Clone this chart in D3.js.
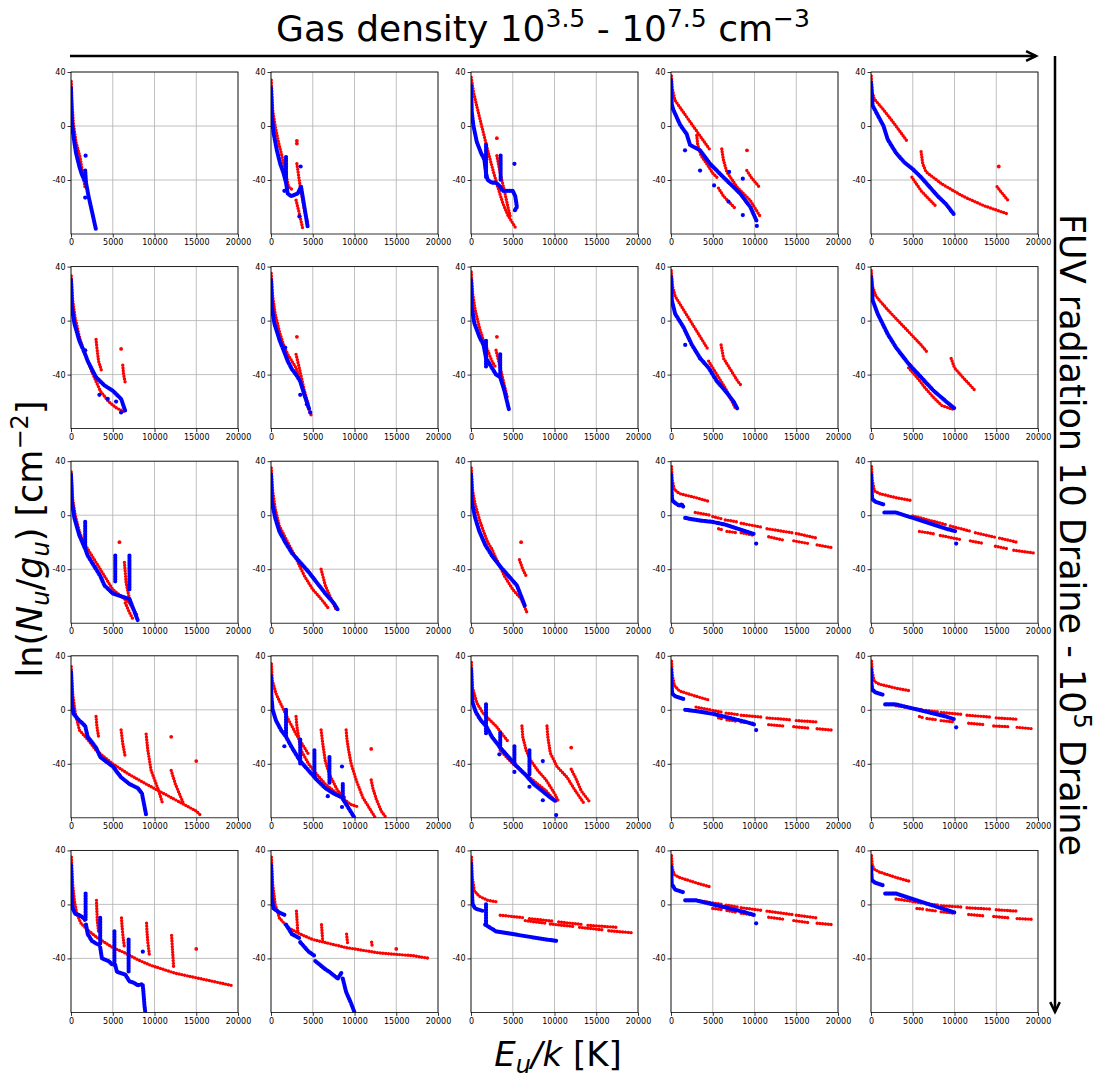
<!DOCTYPE html>
<html>
<head>
<meta charset="utf-8">
<script src="https://cdn.jsdelivr.net/npm/d3@7"></script>
<style>
  body { margin: 0; background: #fff; }
  text { font-family: "DejaVu Sans", sans-serif; }
</style>
</head>
<body>
<svg width="1100" height="1078"></svg>
<script>
// axis ticks
const xTicks = [0, 5000, 10000, 15000, 20000];
const yTicks = [40, 0, -40];

// each panel: red / blue dotted runs ([E_u/k, ln(N/g)]) and single points
const row1 = [
  { red: [[[30,33],[100,20],[280,2],[600,-12],[1080,-23],[1400,-35],[1700,-46]]],
    blue: [[[0,28],[50,10],[150,0],[300,-8],[600,-20],[1000,-30],[1300,-36],[1600,-40]],
           [[1700,-33],[1800,-42],[2100,-52],[2500,-63],[3000,-77]]],
    redPts: [], bluePts: [[1750,-22],[1700,-53]] },
  { red: [[[30,34],[200,12],[500,0],[900,-12],[1300,-22],[1700,-33],[2100,-45],[2700,-48]],
          [[3100,-28],[3500,-45],[4000,-62],[4400,-72]],
          [[3000,-55],[3400,-65],[3800,-76]]],
    blue: [[[0,28],[100,8],[300,-5],[700,-18],[1100,-28],[1500,-35],[1800,-42],[2000,-50],[2400,-52],[3200,-50],[3600,-45]],
           [[3600,-45],[4000,-60],[4400,-75]], [[1800,-23],[1800,-40]]],
    redPts: [[3100,-13],[3100,-11]], bluePts: [[3550,-30],[1600,-48],[3400,-67]] },
  { red: [[[30,36],[300,25],[800,12],[1400,-3],[2000,-18],[2600,-32],[3200,-45],[3800,-57],[4400,-66],[5400,-76]],
          [[3100,-22],[3500,-35],[4000,-48],[4500,-62],[4700,-67]]],
    blue: [[[0,30],[100,10],[300,0],[700,-12],[1200,-20],[1600,-25],[1800,-35],[2000,-40],[2500,-42],[3000,-42],[3500,-45],[3800,-48],[4500,-48],[5000,-48],[5300,-52],[5500,-60],[5200,-63]],
           [[1800,-14],[1800,-38]], [[3550,-22],[3550,-40]]],
    redPts: [[3100,-9]], bluePts: [[5200,-28]] },
  { red: [[[50,37],[150,28],[480,19],[2300,3],[4700,-18]],
          [[3080,-7],[3200,-14],[3600,-22],[4500,-30],[5000,-35],[5500,-38]],
          [[6080,-17],[6280,-25],[6680,-34],[7880,-45],[9480,-55],[10680,-67]],
          [[5680,-46],[6300,-52],[7680,-61]],
          [[9080,-33],[9600,-38],[10680,-46]]],
    blue: [[[0,34],[50,22],[100,16],[280,12],[1080,1],[1880,-6],[2280,-14],[3480,-18],[4680,-28],[6280,-38],[8280,-50],[9500,-60],[10300,-71]]],
    redPts: [[9100,-18]], bluePts: [[1680,-18],[3480,-33],[5160,-44],[6960,-34],[6880,-56],[8600,-39],[8600,-66],[10280,-74]] },
  { red: [[[30,37],[150,25],[400,20],[1500,12],[3000,0],[4400,-12]],
          [[4900,-38],[6000,-48],[7700,-59]],
          [[6000,-19],[6200,-28],[6600,-34],[8500,-43],[11000,-52],[13500,-59],[16300,-65]],
          [[15100,-45],[15600,-49],[16400,-55]]],
    blue: [[[0,32],[200,15],[800,8],[1500,0],[2000,-10],[3000,-20],[4000,-27],[5000,-32],[6000,-38],[7000,-45],[8000,-52],[9000,-58],[10000,-66]]],
    redPts: [[15300,-30]], bluePts: [] }
];

const row2 = [
  { red: [[[30,33],[200,15],[500,2],[1000,-12],[1500,-22],[2000,-30],[2500,-38],[3000,-45],[3500,-52],[4500,-60],[5500,-65],[6600,-68]],
          [[3000,-14],[3100,-20],[3300,-30],[3700,-38]],
          [[6200,-33],[6300,-40],[6500,-46]]],
    blue: [[[0,30],[100,10],[400,-2],[1000,-15],[1700,-25],[2000,-30],[2500,-36],[3000,-42],[4000,-48],[5000,-52],[6000,-58],[6500,-67]]],
    redPts: [[6000,-21]], bluePts: [[1700,-22],[3400,-55],[4400,-58],[5400,-60],[6000,-68]] },
  { red: [[[30,35],[200,18],[500,5],[1000,-8],[1500,-18],[2000,-25],[2500,-30],[3000,-35],[3500,-45],[4000,-55],[4500,-65],[4800,-70]],
          [[3000,-25],[3500,-38],[4000,-52],[4500,-63]]],
    blue: [[[0,30],[100,10],[400,-2],[1000,-14],[1500,-22],[2000,-30],[2500,-36],[3000,-40],[3500,-45],[4000,-55],[4600,-66]]],
    redPts: [[3100,-12]], bluePts: [[1700,-20],[3500,-55],[4300,-62],[4700,-68]] },
  { red: [[[30,36],[200,20],[500,8],[1000,-5],[1500,-15],[2000,-22],[2500,-30],[3000,-35]],
          [[3000,-22],[3500,-35],[4000,-48],[4400,-58]]],
    blue: [[[0,30],[100,10],[400,-2],[1000,-12],[1500,-18],[1800,-28],[2500,-35],[3000,-40],[3500,-42],[4000,-52],[4550,-66]],
           [[1800,-15],[1800,-35]], [[3500,-25],[3500,-42]]],
    redPts: [[3100,-12]], bluePts: [] },
  { red: [[[30,37],[200,25],[500,18],[1500,8],[2500,-2],[3500,-12],[4500,-22]],
          [[6000,-18],[6300,-28],[7000,-35],[8000,-45],[8400,-48]],
          [[4500,-30],[5500,-40],[6500,-50],[7800,-66]]],
    blue: [[[0,32],[100,15],[500,5],[1500,-5],[2500,-18],[3500,-28],[4500,-35],[5500,-45],[6500,-52],[7500,-60],[8000,-66]]],
    redPts: [], bluePts: [[1700,-18],[3500,-28]] },
  { red: [[[30,37],[200,25],[600,18],[2000,8],[4000,-5],[6000,-18],[6800,-24]],
          [[4500,-35],[5500,-42],[6500,-50],[7500,-57],[8500,-63],[10000,-66]],
          [[9600,-28],[10000,-35],[11000,-42],[12500,-52]]],
    blue: [[[0,32],[200,15],[800,5],[2000,-10],[3000,-20],[4500,-32],[6000,-42],[7500,-52],[9000,-60],[10000,-65]]],
    redPts: [], bluePts: [] }
];

const row3 = [
  { red: [[[30,32],[200,12],[500,0],[1000,-12],[1500,-20],[2000,-25],[2500,-30],[3000,-35],[3500,-40],[4000,-45],[5000,-55],[6000,-60],[7000,-65],[8000,-75]],
          [[6400,-35],[6600,-50],[7000,-62]], [[6500,-65],[7000,-72],[7500,-78]]],
    blue: [[[0,30],[100,10],[400,-2],[1000,-15],[1700,-25],[2000,-30],[2500,-35],[3000,-40],[3500,-45],[4000,-52],[5000,-58],[6000,-60],[7000,-62],[7500,-70],[8000,-78]],
           [[1700,-5],[1700,-25]], [[5300,-30],[5300,-50]], [[7000,-30],[7000,-55]]],
    redPts: [[5800,-20]], bluePts: [] },
  { red: [[[30,35],[200,18],[500,5],[1000,-8],[2000,-20],[3000,-32],[4000,-45],[5000,-55],[6000,-62],[7000,-70]],
          [[6000,-40],[6500,-52],[7200,-62],[7800,-70]]],
    blue: [[[0,30],[100,10],[500,-2],[1000,-12],[1700,-20],[2500,-28],[3500,-35],[4500,-42],[5500,-50],[6500,-58],[7500,-65],[8000,-70]]],
    redPts: [], bluePts: [] },
  { red: [[[30,35],[200,18],[500,8],[1000,-3],[1500,-12],[2000,-20],[2500,-25],[3000,-32],[4000,-45],[5000,-55],[6000,-62],[6700,-72]],
          [[5800,-33],[6200,-40],[6600,-45]]],
    blue: [[[0,30],[100,10],[500,-2],[1000,-12],[1700,-22],[2500,-30],[3500,-38],[4500,-45],[5500,-52],[6500,-68]]],
    redPts: [[6000,-20]], bluePts: [] },
  { red: [[[60,36],[150,26],[400,19],[1000,16],[3000,13],[4700,10]],
          [[2900,2],[4700,0]], [[5000,-1],[6300,-3]], [[6500,-3.5],[8000,-5]], [[8400,-6],[11000,-9]], [[11500,-10],[14500,-13]], [[15000,-13.5],[17500,-17]],
          [[5700,-10],[6300,-11]], [[6700,-12],[8000,-13]], [[8400,-13],[10000,-15]], [[11700,-16],[13500,-18.5]], [[14700,-19],[16500,-21]], [[17500,-22],[19300,-24]]],
    blue: [[[0,30],[50,20],[150,11],[500,9],[1000,7],[1300,8],[1500,6]],
           [[1700,-2],[2500,-3],[3500,-4],[5000,-5],[6500,-7],[8000,-10],[10000,-14]]],
    redPts: [], bluePts: [[10200,-21]] },
  { red: [[[60,36],[150,26],[400,18],[1000,16],[3000,13],[4700,11]],
          [[5000,-0.5],[9000,-7]], [[9500,-8],[12000,-12]], [[12500,-13],[15000,-16.5]], [[15400,-17],[17500,-20]],
          [[5800,-12],[7700,-14]], [[8300,-15],[10700,-18]], [[11900,-19],[13500,-21]], [[14900,-23],[16500,-25]], [[17100,-26],[19500,-28]]],
    blue: [[[0,30],[50,20],[150,12],[500,10],[1000,9],[1500,8]],
           [[1600,2],[3000,2],[5000,-2],[7000,-6],[9000,-10],[10200,-12]]],
    redPts: [], bluePts: [[10200,-21]] }
];

const row4 = [
  { red: [[[30,32],[200,12],[500,-2],[1000,-15],[2000,-22],[3000,-30],[5000,-40],[7000,-48],[9000,-55],[12000,-65],[15000,-75],[15500,-78]],
          [[3000,-5],[3100,-12],[3300,-20]], [[6000,-15],[6200,-25],[6500,-35]],
          [[9000,-18],[9200,-30],[9600,-45],[10500,-60],[11000,-70]],
          [[12000,-45],[12500,-55],[13500,-70]]],
    blue: [[[0,28],[100,5],[300,-3],[1000,-8],[1700,-12],[2000,-20],[3000,-28],[3500,-35],[5000,-42],[6000,-50],[7000,-55],[8000,-58],[8500,-62],[9000,-78]]],
    redPts: [[15000,-38],[12000,-20]], bluePts: [] },
  { red: [[[50,34],[150,22],[600,12],[1200,4],[1900,-5],[3000,-18],[4500,-33]],
          [[3000,-5],[3100,-12],[3300,-20],[3600,-30],[4500,-40],[5500,-48],[6500,-55],[7500,-60],[8500,-65],[9500,-70],[10500,-72]],
          [[6000,-15],[6200,-25],[6500,-38],[7000,-48],[8000,-60],[9000,-66]],
          [[9000,-15],[9100,-22],[9300,-30],[9600,-40],[10200,-52],[11000,-65],[12000,-75],[12500,-80]],
          [[12000,-52],[12200,-58],[12600,-66],[13200,-75],[13800,-80]]],
    blue: [[[0,25],[50,10],[200,0],[600,-8],[1200,-15],[1800,-20],[2500,-28],[3500,-38],[4500,-45],[5500,-52],[6500,-58],[7500,-62],[8500,-65],[9000,-70],[9500,-75],[10000,-80]],
           [[1800,0],[1800,-20]], [[3500,-22],[3500,-40]], [[5200,-30],[5200,-50]], [[7000,-35],[7000,-55]], [[8600,-55],[8600,-65]]],
    redPts: [[12000,-29]], bluePts: [[1600,-27],[8500,-42],[8500,-72],[6800,-64]] },
  { red: [[[50,35],[200,16],[700,5],[1500,-3],[3000,-12],[4500,-24]],
          [[3500,-30],[5000,-40],[6000,-45],[7000,-50],[8000,-55],[9000,-60],[10000,-67],[10500,-68]],
          [[6100,-12],[6200,-20],[6600,-30],[7100,-37],[8000,-45],[9000,-52],[10000,-62],[10500,-68]],
          [[9100,-12],[9200,-20],[9500,-32],[10300,-42],[11500,-50],[12500,-60],[13500,-69]],
          [[12000,-44],[12500,-50],[13200,-60],[14300,-69]]],
    blue: [[[0,30],[50,15],[200,5],[600,-2],[1200,-8],[1800,-12],[2500,-20],[3500,-28],[4500,-35],[5500,-42],[6500,-48],[7500,-55],[8500,-60],[9500,-65],[10200,-68]],
           [[1800,4],[1800,-18]], [[3500,-17],[3500,-28]], [[5200,-27],[5200,-40]], [[7000,-30],[7000,-48]]],
    redPts: [[12000,-28]], bluePts: [[10200,-78],[8600,-67],[5200,-46],[3400,-33],[7000,-57],[8600,-38]] },
  { red: [[[60,36],[150,26],[400,18],[1000,14],[3000,10],[4700,7]],
          [[3000,2],[4700,0]], [[5000,-0.5],[6300,-2]], [[6600,-2.5],[8000,-3.5]], [[8400,-4],[11000,-5.5]], [[11500,-6],[14500,-7.5]], [[15000,-8],[17500,-9]],
          [[5700,-6],[6300,-7]], [[6700,-7.5],[8000,-8.5]], [[8400,-9],[10000,-10]], [[11700,-11],[13500,-12]], [[14700,-12.5],[16500,-13.5]], [[17500,-14],[19300,-15]]],
    blue: [[[0,30],[50,20],[150,12],[500,10],[1000,9],[1500,8]],
           [[1700,0],[3000,-1],[5000,-3],[7000,-6],[9000,-9],[10000,-11]]],
    redPts: [], bluePts: [[10200,-15]] },
  { red: [[[60,36],[150,28],[400,21],[1000,19],[3000,16],[4700,14]],
          [[3000,3],[4700,1.5]], [[5000,1],[6300,0]], [[6600,-0.5],[8000,-1.5]], [[8400,-2],[11000,-3.5]], [[11500,-4],[14500,-5.5]], [[15000,-6],[17500,-7]],
          [[5800,-5],[6300,-6]], [[6700,-6.5],[8000,-7.5]], [[8400,-8],[10000,-9]], [[11700,-10],[13500,-11]], [[14700,-12],[16500,-12.5]], [[17500,-13],[19300,-14]]],
    blue: [[[0,30],[50,20],[150,15],[500,13],[1000,12],[1500,11]],
           [[1700,4],[3000,4],[5000,1],[7000,-2],[9000,-5],[10000,-7]]],
    redPts: [], bluePts: [[10200,-13]] }
];

const row5 = [
  { red: [[[50,35],[200,15],[400,3],[700,-7],[1200,-14],[2000,-19],[3000,-24],[4000,-28],[5000,-32],[6500,-36],[8000,-41],[9500,-45],[11000,-48],[12500,-51],[14000,-53],[15500,-55],[17000,-57],[19200,-60]],
          [[3050,3],[3100,-5],[3150,-12],[3300,-20]], [[6050,-10],[6100,-15],[6200,-22],[6400,-32]],
          [[9050,-14],[9100,-20],[9200,-28],[9400,-38]], [[12050,-23],[12100,-28],[12200,-38],[12300,-47]]],
    blue: [[[0,29],[50,15],[100,5],[200,-3],[500,-7],[1000,-8],[1500,-10],[1700,-12]],
           [[1800,-15],[2000,-22],[2500,-27],[3000,-29],[3400,-30]],
           [[3500,-32],[3700,-40],[4500,-42],[5000,-45]],
           [[5300,-45],[5500,-50],[6500,-52],[7000,-57],[7500,-58],[8000,-60],[8500,-59]],
           [[8600,-60],[8700,-67],[8800,-75],[8900,-80]],
           [[1750,8],[1750,-12]], [[3500,-10],[3500,-30]], [[5200,-20],[5200,-45]], [[6900,-26],[6900,-50]]],
    redPts: [[15000,-33]], bluePts: [[8600,-35]] },
  { red: [[[50,35],[200,15],[500,0],[1000,-10],[2000,-17],[3500,-22],[5000,-26],[7000,-29],[9000,-32],[11000,-34],[13000,-36],[15000,-37],[17000,-38],[19000,-40]],
          [[3050,-5],[3200,-20]], [[6050,-15],[6200,-28]], [[9050,-22],[9200,-30]], [[12050,-28],[12150,-32]]],
    blue: [[[0,29],[100,5],[300,-3],[1000,-6],[1700,-8]],
           [[1800,-15],[2500,-22],[3400,-25]],
           [[3500,-28],[4500,-35],[5200,-38]],
           [[5300,-42],[6500,-48],[7000,-50],[8000,-55],[8500,-50]],
           [[8600,-55],[9000,-65],[9500,-72],[10000,-80]]],
    redPts: [[15000,-33]], bluePts: [] },
  { red: [[[60,35],[150,20],[400,10],[1000,6],[2000,3],[3000,2]],
          [[3500,-8],[6500,-10]], [[7000,-10.5],[10000,-12.5]], [[10500,-13],[13500,-15]], [[14000,-15.5],[17500,-17]],
          [[6500,-12],[9000,-14]], [[9500,-14.5],[12500,-16.5]], [[13000,-17],[16000,-19]], [[16500,-19.5],[19300,-21]]],
    blue: [[[0,30],[50,15],[200,0],[500,-3],[1000,-4],[1500,-5]],
           [[1700,-15],[3000,-20],[5000,-22],[7000,-24],[9000,-26],[10200,-27]],
           [[1800,0],[1800,-15]]],
    redPts: [], bluePts: [] },
  { red: [[[60,36],[150,27],[400,22],[1000,20],[3000,16],[4700,13]],
          [[3000,3],[4700,1.5]], [[5000,1],[6300,0]], [[6600,-0.5],[8000,-2]], [[8400,-2.5],[11000,-4.5]], [[11500,-5],[14500,-7.5]], [[15000,-8],[17500,-10]],
          [[5000,-3],[6300,-4]], [[6700,-4.5],[8000,-6]], [[8400,-6.5],[10000,-8]], [[11700,-9.5],[13500,-11]], [[14700,-12],[16500,-13.5]], [[17500,-14],[19300,-15]]],
    blue: [[[0,28],[100,15],[500,11],[1500,9]],
           [[1700,3],[3000,3],[5000,0],[7000,-3],[9000,-6],[10000,-8]]],
    redPts: [], bluePts: [[10200,-14]] },
  { red: [[[60,36],[150,29],[400,26],[1000,24],[3000,20],[4700,17]],
          [[3000,4],[4700,2.5]], [[5000,2],[6300,1]], [[6600,0.5],[8000,-0.5]], [[8400,-1],[11000,-2]], [[11500,-2.5],[14500,-3.5]], [[15000,-4],[17500,-5]],
          [[5500,-3],[6300,-3.5]], [[6700,-4],[8000,-5]], [[8400,-5.5],[10000,-6.5]], [[11700,-7.5],[13500,-8.5]], [[14700,-9],[16500,-10]], [[17500,-10.5],[19300,-11]]],
    blue: [[[0,28],[100,18],[500,16],[1500,14]],
           [[1700,8],[3000,8],[5000,4],[7000,0],[9000,-4],[10000,-6]]],
    redPts: [], bluePts: [] }
];

const rows = [row1, row2, row3, row4, row5];

const svg = d3.select('svg');
const pw = 167, ph = 162;
const x = d3.scaleLinear().domain([0, 20000]).range([0, pw]);
const y = d3.scaleLinear().domain([-80, 40]).range([ph, 0]);
const line = d3.line().x(d => x(d[0])).y(d => y(d[1]));

svg.append('defs').append('clipPath').attr('id', 'pc')
  .append('rect').attr('width', pw).attr('height', ph);

rows.forEach((row, r) => row.forEach((p, c) => {
  const g = svg.append('g')
    .attr('transform', `translate(${71 + 200 * c},${72 + 194.6 * r})`);

  // grid
  g.append('g').selectAll('line').data(xTicks).enter().append('line')
    .attr('x1', d => x(d)).attr('x2', d => x(d)).attr('y1', 0).attr('y2', ph)
    .attr('stroke', '#b0b0b0').attr('stroke-width', 0.8);
  g.append('g').selectAll('line').data(yTicks).enter().append('line')
    .attr('y1', d => y(d)).attr('y2', d => y(d)).attr('x1', 0).attr('x2', pw)
    .attr('stroke', '#b0b0b0').attr('stroke-width', 0.8);

  const plot = g.append('g').attr('clip-path', 'url(#pc)');

  const runs = (segs, color, w, gap) => plot.append('g').selectAll('path')
    .data(segs).enter().append('path')
    .attr('d', line)
    .attr('fill', 'none')
    .attr('stroke', color)
    .attr('stroke-width', w)
    .attr('stroke-linecap', 'round')
    .attr('stroke-dasharray', `0 ${gap}`);

  runs(p.red, 'red', 3.4, 2.8);
  plot.append('g').selectAll('circle').data(p.redPts).enter().append('circle')
    .attr('cx', d => x(d[0])).attr('cy', d => y(d[1])).attr('r', 1.9).attr('fill', 'red');
  runs(p.blue, 'blue', 4.2, 1.6);
  plot.append('g').selectAll('circle').data(p.bluePts).enter().append('circle')
    .attr('cx', d => x(d[0])).attr('cy', d => y(d[1])).attr('r', 2.1).attr('fill', 'blue');

  // axes
  const xa = g.append('g').attr('transform', `translate(0,${ph})`)
    .call(d3.axisBottom(x).tickValues(xTicks).tickSize(3.5).tickPadding(2).tickFormat(d3.format('d')));
  const ya = g.append('g')
    .call(d3.axisLeft(y).tickValues(yTicks).tickSize(3.5).tickPadding(2).tickFormat(d => d < 0 ? '-' + (-d) : d));
  [xa, ya].forEach(a => {
    a.select('.domain').remove();
    a.selectAll('text').attr('font-size', 8).attr('fill', '#000')
      .style('font-family', '"DejaVu Sans", sans-serif');
    a.selectAll('line').attr('stroke', '#000').attr('stroke-width', 0.8);
  });
  g.append('rect').attr('width', pw).attr('height', ph)
    .attr('fill', 'none').attr('stroke', '#000').attr('stroke-width', 0.8);
}));

// arrows
const arrow = (x1, y1, x2, y2) => {
  svg.append('line').attr('x1', x1).attr('y1', y1).attr('x2', x2).attr('y2', y2)
    .attr('stroke', '#000').attr('stroke-width', 2.5);
  const a = Math.atan2(y2 - y1, x2 - x1), L = 11, s = 0.45;
  const p1 = [x2 - L * Math.cos(a - s), y2 - L * Math.sin(a - s)];
  const p2 = [x2 - L * Math.cos(a + s), y2 - L * Math.sin(a + s)];
  svg.append('path').attr('d', `M${p1}L${x2},${y2}L${p2}`)
    .attr('fill', 'none').attr('stroke', '#000').attr('stroke-width', 2.5);
};
arrow(70, 56, 1036, 56);
arrow(1055, 56, 1055, 1012);

// titles
const topLabel = svg.append('text').attr('x', 543).attr('y', 41).attr('text-anchor', 'middle')
  .attr('font-size', 36);
topLabel.append('tspan').text('Gas density 10');
topLabel.append('tspan').attr('font-size', 25).attr('dy', -14).text('3.5');
topLabel.append('tspan').attr('dy', 14).text(' - 10');
topLabel.append('tspan').attr('font-size', 25).attr('dy', -14).text('7.5');
topLabel.append('tspan').attr('dy', 14).text(' cm');
topLabel.append('tspan').attr('font-size', 25).attr('dy', -14).text('\u22123');

const rightLabel = svg.append('text').attr('transform', 'translate(1060,535) rotate(90)')
  .attr('text-anchor', 'middle').attr('font-size', 35);
rightLabel.append('tspan').text('FUV radiation 10 Draine - 10');
rightLabel.append('tspan').attr('font-size', 24).attr('dy', -14).text('5');
rightLabel.append('tspan').attr('dy', 14).text(' Draine');

const leftLabel = svg.append('text').attr('transform', 'translate(42,539) rotate(-90)')
  .attr('text-anchor', 'middle').attr('font-size', 35);
leftLabel.append('tspan').text('ln(');
leftLabel.append('tspan').attr('font-style', 'italic').text('N');
leftLabel.append('tspan').attr('font-style', 'italic').attr('font-size', 24).attr('dy', 7).text('u');
leftLabel.append('tspan').attr('dy', -7).text('/');
leftLabel.append('tspan').attr('font-style', 'italic').text('g');
leftLabel.append('tspan').attr('font-style', 'italic').attr('font-size', 24).attr('dy', 7).text('u');
leftLabel.append('tspan').attr('dy', -7).text(') [cm');
leftLabel.append('tspan').attr('font-size', 24).attr('dy', -14).text('\u22122');
leftLabel.append('tspan').attr('dy', 14).text(']');

const bottomLabel = svg.append('text').attr('x', 558).attr('y', 1066).attr('text-anchor', 'middle')
  .attr('font-size', 34);
bottomLabel.append('tspan').attr('font-style', 'italic').text('E');
bottomLabel.append('tspan').attr('font-style', 'italic').attr('font-size', 24).attr('dy', 7).text('u');
bottomLabel.append('tspan').attr('dy', -7).attr('font-style', 'italic').text('/k');
bottomLabel.append('tspan').text(' [K]');
</script>
</body>
</html>
